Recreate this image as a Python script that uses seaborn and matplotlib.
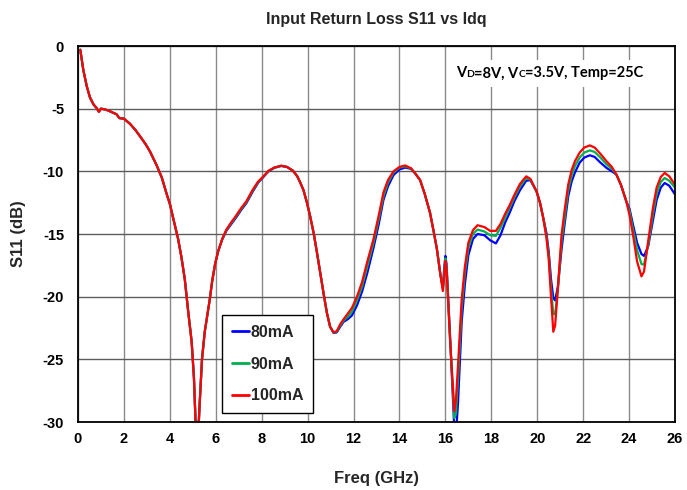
import matplotlib
matplotlib.use("Agg")
import matplotlib.pyplot as plt
import pandas as pd
import seaborn as sns
from matplotlib.lines import Line2D
from matplotlib.offsetbox import TextArea, HPacker, AnchoredOffsetbox

# Input return loss S11 (dB) versus frequency (GHz) for three quiescent drain currents
freq_ghz = [
    0.10, 0.23, 0.38, 0.52, 0.67, 0.81, 0.91, 1.00, 1.15, 1.32, 1.50, 1.68, 1.80,
    2.00, 2.26, 2.50, 2.70, 2.95, 3.13, 3.42, 3.65, 3.86, 4.00, 4.14, 4.36, 4.50,
    4.65, 4.80, 4.95, 5.05, 5.18, 5.30, 5.40, 5.52, 5.74, 5.84, 5.97, 6.10, 6.28,
    6.46, 6.70, 6.90, 7.10, 7.33, 7.60, 7.85, 8.05, 8.30, 8.55, 8.85, 9.10, 9.36,
    9.55, 9.68, 9.82, 9.97, 10.10, 10.26, 10.40, 10.55, 10.70, 10.84, 10.98, 11.13,
    11.27, 11.42,
    11.57, 11.75, 11.93, 12.15, 12.37, 12.60, 12.87, 13.10, 13.30, 13.50, 13.74,
    14.00, 14.25, 14.50, 14.70, 14.90, 15.10, 15.33, 15.50, 15.63, 15.78, 15.89,
    15.95, 16.00, 16.05, 16.20, 16.39, 16.46, 16.55, 16.71, 16.85, 17.00, 17.20,
    17.40, 17.70, 17.95, 18.20, 18.40, 18.60, 18.80, 19.00, 19.25, 19.52, 19.70,
    19.97, 20.12, 20.26, 20.40, 20.50, 20.60, 20.70, 20.78, 20.90, 21.06, 21.20,
    21.35, 21.50, 21.64, 21.85, 22.05, 22.29, 22.50, 22.75, 23.02, 23.25, 23.45,
    23.65, 23.88, 24.02, 24.17, 24.35, 24.54, 24.65, 24.83, 25.04, 25.20, 25.38,
    25.55, 25.75, 26.00,
]

s11_80ma = [
    -0.3, -1.9, -3.2, -4.1, -4.65, -4.95, -5.25, -5.0, -5.05, -5.15, -5.3, -5.45, -5.75,
    -5.8, -6.2, -6.7, -7.2, -7.85, -8.4, -9.5, -10.5, -11.8, -12.6, -13.7, -15.4, -16.8,
    -18.6, -21.2, -23.6, -26.5, -33.0, -28.5, -25.0, -22.8, -20.2, -18.8, -17.4, -16.4, -15.45,
    -14.75, -14.15, -13.65, -13.1, -12.55, -11.65, -10.9, -10.5, -10.0, -9.72, -9.57, -9.65, -9.95,
    -10.4, -10.9, -11.5, -12.5, -13.5, -14.9, -16.4, -18.1, -19.8, -21.3, -22.4, -22.9,
    -22.85, -22.4,
    -22.0, -21.8, -21.5, -20.7, -19.6, -18.1, -16.1, -14.2, -12.3, -11.2, -10.3,
    -9.85, -9.7, -9.8, -10.2, -10.7, -11.8, -13.3, -14.9, -16.2, -18.2, -19.3,
    -17.7, -16.75, -17.4, -23.0, -30.6, -31.0, -28.5, -22.0, -19.0, -16.7, -15.4,
    -15.0, -15.1, -15.5, -15.75, -15.1, -14.1, -13.3, -12.4, -11.5, -10.75, -10.7,
    -11.6, -12.5, -13.7, -14.9, -16.4, -18.6, -20.1, -20.3, -19.2, -16.2, -14.1,
    -12.0, -10.8, -10.1, -9.3, -8.9, -8.72, -8.85, -9.3, -9.73, -10.0, -10.26,
    -11.1, -12.4, -13.0, -14.25, -15.7, -16.6, -16.75, -16.0, -13.9, -12.3, -11.3,
    -10.93, -11.15, -11.84,
]

s11_90ma = [
    -0.3, -1.9, -3.2, -4.1, -4.65, -4.95, -5.25, -5.0, -5.05, -5.15, -5.3, -5.45, -5.75,
    -5.8, -6.2, -6.7, -7.2, -7.85, -8.4, -9.5, -10.5, -11.8, -12.6, -13.7, -15.4, -16.8,
    -18.6, -21.2, -23.6, -26.5, -33.0, -28.5, -25.0, -22.8, -20.2, -18.8, -17.4, -16.4, -15.4,
    -14.7, -14.07, -13.57, -13.02, -12.47, -11.57, -10.85, -10.47, -9.97, -9.71, -9.56, -9.65, -9.95,
    -10.4, -10.9, -11.5, -12.5, -13.5, -14.9, -16.4, -18.1, -19.8, -21.3, -22.4, -22.87,
    -22.8, -22.3,
    -21.9, -21.6, -21.2, -20.3, -19.2, -17.6, -15.7, -13.8, -12.0, -10.9, -10.1,
    -9.7, -9.6, -9.77, -10.2, -10.7, -11.8, -13.3, -14.9, -16.2, -18.2, -19.4,
    -18.0, -16.95, -17.6, -23.3, -29.7, -29.3, -26.6, -20.9, -18.1, -16.1, -15.0,
    -14.65, -14.8, -15.1, -15.15, -14.5, -13.7, -12.9, -12.1, -11.2, -10.55, -10.65,
    -11.6, -12.5, -13.7, -15.1, -16.7, -19.3, -21.4, -21.4, -19.4, -15.6, -13.6,
    -11.5, -10.35, -9.6, -8.9, -8.5, -8.33, -8.45, -8.9, -9.45, -9.8, -10.26,
    -11.1, -12.4, -13.2, -14.6, -16.3, -17.4, -17.45, -15.9, -13.4, -11.8, -10.85,
    -10.53, -10.75, -11.3,
]

s11_100ma = [
    -0.3, -1.9, -3.2, -4.1, -4.65, -4.95, -5.25, -5.0, -5.05, -5.15, -5.3, -5.45, -5.75,
    -5.8, -6.2, -6.7, -7.2, -7.85, -8.4, -9.5, -10.5, -11.8, -12.6, -13.7, -15.4, -16.8,
    -18.6, -21.2, -23.6, -26.5, -33.0, -28.5, -25.0, -22.8, -20.2, -18.8, -17.4, -16.4, -15.4,
    -14.65, -14.0, -13.5, -12.95, -12.4, -11.5, -10.8, -10.45, -9.95, -9.7, -9.55, -9.65, -9.95,
    -10.4, -10.9, -11.5, -12.5, -13.5, -14.9, -16.4, -18.1, -19.8, -21.3, -22.4, -22.85,
    -22.75, -22.2,
    -21.8, -21.35, -20.9, -20.0, -18.85, -17.2, -15.4, -13.5, -11.7, -10.7, -10.0,
    -9.65, -9.53, -9.75, -10.2, -10.7, -11.8, -13.3, -14.9, -16.2, -18.2, -19.55,
    -18.3, -17.15, -17.8, -23.3, -29.15, -28.2, -25.5, -20.2, -17.6, -15.7, -14.7,
    -14.3, -14.45, -14.75, -14.75, -14.2, -13.4, -12.7, -11.9, -11.0, -10.4, -10.6,
    -11.6, -12.5, -13.7, -15.3, -17.0, -20.0, -22.8, -22.3, -19.3, -15.05, -13.0,
    -11.06, -9.9, -9.2, -8.5, -8.1, -7.93, -8.1, -8.6, -9.2, -9.65, -10.26,
    -11.1, -12.4, -13.5, -15.05, -17.2, -18.38, -18.0, -15.6, -12.9, -11.3, -10.45,
    -10.13, -10.4, -11.06,
]

bias_labels = ["80mA", "90mA", "100mA"]
line_colors = ["#0000ff", "#00b050", "#ff0000"]
x_ticks = list(range(0, 27, 2))
y_ticks = [0, -5, -10, -15, -20, -25, -30]

curves = [s11_80ma, s11_90ma, s11_100ma]
for c in curves:
    assert len(c) == len(freq_ghz), (len(c), len(freq_ghz))

df = pd.concat(
    [pd.DataFrame({"freq": freq_ghz, "s11": vals, "bias": lab})
     for lab, vals in zip(bias_labels, curves)],
    ignore_index=True,
)

sns.set_theme(style="white")
plt.rcParams["font.family"] = ["Liberation Sans", "DejaVu Sans"]
plt.rcParams["axes.unicode_minus"] = False

fig = plt.figure(figsize=(6.87, 4.90), dpi=100)
ax = fig.add_axes([78 / 687, 1 - 422 / 490, 597 / 687, 376 / 490])

sns.lineplot(
    data=df, x="freq", y="s11", hue="bias", hue_order=bias_labels,
    palette=dict(zip(bias_labels, line_colors)), linewidth=1.6,
    sort=False, estimator=None, legend=False, ax=ax,
)

ax.set_xlim(0, 26)
ax.set_ylim(-30, 0)
ax.set_xticks(x_ticks)
ax.set_yticks(y_ticks)
ax.set_xticklabels([str(t) for t in x_ticks], fontweight="bold", fontsize=10.5)
ax.set_yticklabels([str(t) for t in y_ticks], fontweight="bold", fontsize=10.5)
ax.tick_params(axis="both", length=0, colors="black")
ax.tick_params(axis="x", pad=7)
ax.tick_params(axis="y", pad=10)

ax.set_axisbelow(True)
ax.xaxis.grid(True, color="#8a8a8a", linewidth=1.0)
ax.yaxis.grid(True, color="#5c5c5c", linewidth=1.0)
for side in ["left", "bottom", "top", "right"]:
    ax.spines[side].set_visible(True)
    ax.spines[side].set_color("black")
    ax.spines[side].set_linewidth(1.3)

ax.set_title("Input Return Loss S11 vs Idq", fontweight="bold", fontsize=11.5, pad=16)
ax.set_xlabel("Freq (GHz)", fontweight="bold", fontsize=12, labelpad=18)
ax.set_ylabel("S11 (dB)", fontweight="bold", fontsize=12, labelpad=12)

# Legend box with the three bias currents
handles = [Line2D([], [], color=c, linewidth=2) for c in line_colors]
leg = ax.legend(
    handles, bias_labels, loc="lower left", bbox_to_anchor=(0.242, 0.023),
    borderaxespad=0, frameon=True, fancybox=False, framealpha=1,
    edgecolor="black", prop={"weight": "bold", "size": 11.5},
    handlelength=1.05, handletextpad=0.1, labelspacing=1.05, borderpad=0.62,
)
leg.get_frame().set_linewidth(1.0)

# Bias / temperature condition, with small-cap subscripts on V
big = dict(fontfamily="Lato", fontweight="bold", fontsize=10.5, color="black")
small = dict(fontfamily="Lato", fontweight="bold", fontsize=7.5, color="black")
parts = [("V", big), ("D", small), ("=8V, V", big), ("C", small), ("=3.5V, Temp=25C", big)]
packer = HPacker(children=[TextArea(t, textprops=p) for t, p in parts],
                 align="baseline", pad=0, sep=0)
box = AnchoredOffsetbox(loc="center left", child=packer, pad=0.45, borderpad=0,
                        frameon=True, bbox_to_anchor=(0.622, 0.927),
                        bbox_transform=ax.transAxes)
box.patch.set_facecolor("white")
box.patch.set_edgecolor("none")
box.set_zorder(4)
ax.add_artist(box)

fig.savefig("out.png", dpi=100)
